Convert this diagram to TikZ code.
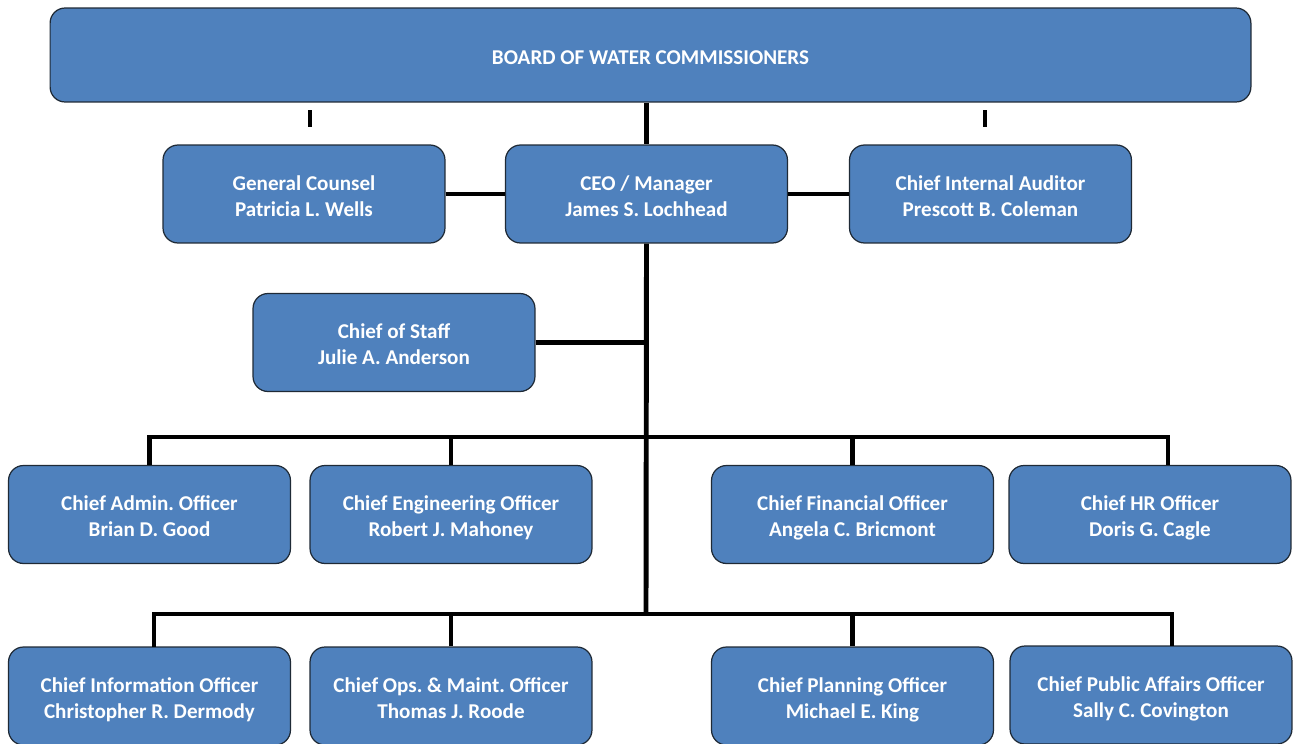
\documentclass[tikz,border=0pt]{standalone}
\usepackage{fontspec}
\setmainfont{Carlito}
\usepackage{tikz}
\definecolor{boxblue}{HTML}{4F81BD}
\definecolor{boxedge}{HTML}{1F2A36}
\frenchspacing
\newcommand\toppad{\rule{0pt}{15pt}}

\begin{document}
\begin{tikzpicture}[x=0.02cm,y=-0.02cm,
    post/.style={draw=boxedge,line width=0.7pt,fill=boxblue,rounded corners=0.3cm,
        minimum width=5.64cm,minimum height=1.96cm,align=center,text=white,
        font=\fontsize{12}{14.7}\selectfont\bfseries,inner sep=0pt,
        execute at end node=\strut},
    wire/.style={line width=2.8pt,black}]
        \useasboundingbox (0,0) rectangle (1296,744);
% top level
\draw (650.5,55) node[post,minimum width=24.02cm,minimum height=1.88cm](board) {\toppad BOARD OF WATER COMMISSIONERS};
\draw (304,194) node[post](counsel) {\toppad General Counsel\\Patricia L. Wells};
\draw (646.5,194) node[post](ceo) {\toppad CEO / Manager\\James S. Lochhead};
\draw (990.5,194) node[post](auditor) {\toppad Chief Internal Auditor\\Prescott B. Coleman};
\draw (394,342.5) node[post](staff) {\toppad Chief of Staff\\Julie A. Anderson};
% officers, first row
\draw (149.5,514.5) node[post](admin) {\toppad Chief Admin. Officer\\Brian D. Good};
\draw (451,514.5) node[post](eng) {\toppad Chief Engineering Officer\\Robert J. Mahoney};
\draw (852.5,514.5) node[post](fin) {\toppad Chief Financial Officer\\Angela C. Bricmont};
\draw (1150,514.5) node[post](hr) {\toppad Chief HR Officer\\Doris G. Cagle};
% officers, second row
\draw (149.5,696) node[post](info) {\toppad Chief Information Officer\\Christopher R. Dermody};
\draw (451,696) node[post](ops) {\toppad Chief Ops. \& Maint. Officer\\Thomas J. Roode};
\draw (852.5,696) node[post](plan) {\toppad Chief Planning Officer\\Michael E. King};
\draw (1151,695) node[post](pa) {\toppad Chief Public Affairs Officer\\Sally C. Covington};
% lines
\coordinate (hrtop) at (1168,465);
\coordinate (patop) at (1172,646);
\coordinate (infotop) at (154,647);
\coordinate (bus1) at (646,437);
\coordinate (bus2) at (646,614);
\draw[wire] (ceo.north |- board.south) -- (ceo.north);
\draw[wire] (ceo.south) -- (bus2);
\draw[wire] (counsel.east) -- (ceo.west);
\draw[wire] (ceo.east) -- (auditor.east -| auditor.west);
\draw[wire] (staff.east) -- (staff.east -| ceo.south);
\draw[wire] (admin.north) |- (bus1) -| (hrtop);
\draw[wire] (eng.north) -- (eng.north |- bus1);
\draw[wire] (fin.north) -- (fin.north |- bus1);
\draw[wire] (infotop) |- (bus2) -| (patop);
\draw[wire] (ops.north) -- (ops.north |- bus2);
\draw[wire] (plan.north) -- (plan.north |- bus2);
% loose marks under the board
\draw[wire] (310,110) -- (310,127);
\draw[wire] (985,110) -- (985,127);
    \end{tikzpicture}
\end{document}
